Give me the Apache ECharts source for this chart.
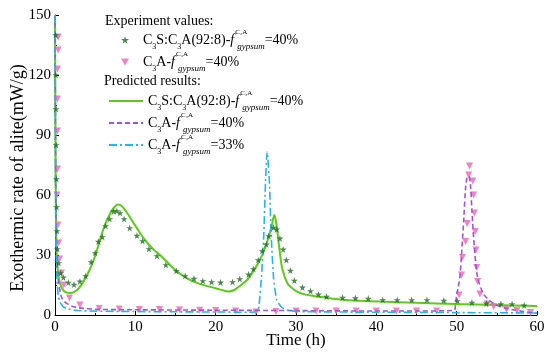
<!DOCTYPE html>
<html><head><meta charset="utf-8">
<script src="https://cdn.jsdelivr.net/npm/echarts@6/dist/echarts.min.js"></script>
<style>html,body{margin:0;padding:0;background:#fff}#c{width:550px;height:359px}</style>
</head><body><div id="c"></div>
<script>
// ---- data ----
const xTicks = [0, 10, 20, 30, 40, 50, 60];
const yTicks = [0, 30, 60, 90, 120, 150];

// Experiment: C3S:C3A(92:8), f_gypsum = 40% (stars)
const expMixX = [0.08,0.1,0.12,0.15,0.18,0.2,0.25,0.3,0.45,0.7,1.04,1.66,2.37,3.1,3.8,4.5,5.0,5.4,5.9,6.3,6.8,7.3,7.7,8.1,8.6,9.3,10.2,10.9,11.7,12.7,13.8,15.1,16.2,17.3,18.4,19.5,20.6,22.1,23.0,24.1,24.7,25.3,25.8,26.3,26.6,27.2,27.6,28.0,28.4,28.8,29.3,29.8,30.8,31.8,32.8,33.8,35.8,37.4,39.0,40.8,42.6,44.4,46.3,48.4,50.1,51.9,53.7,55.5,56.9,58.4];
const expMixY = [140,120,103,85,68,54,42,33,26,21,18.8,16.2,15.2,16.8,19.5,26.5,31,36.7,39,44.5,48,51.8,52,51,48,43.5,39.7,37,33,29.5,25,22,19.5,18.2,17,16.5,16.3,16.5,18,20.3,23,27.5,32,35.3,39.5,43.7,42.8,38.3,32.8,27.5,22.2,17.2,13.8,12,10.3,9.2,8.7,8.4,8.2,7.5,7.5,7.5,7.5,7.2,7,6.2,5.8,5.5,5.5,4.8];

// Experiment: C3A, f_gypsum = 40% (triangles)
const expC3AX = [0.4,0.4,0.3,0.3,0.3,0.3,0.25,0.35,0.45,0.55,0.8,1.1,1.8,3.1,5.5,8,10.5,13,15.5,18,20,22.5,25,27.5,30,32.5,35,37.5,40,42.5,45,47.5,50.3,50.6,50.7,51.1,51.3,51.6,51.5,52.0,52.1,52.2,52.3,52.4,52.5,52.6,52.9,53.8,54.6,56.2,57.5,59.2];
const expC3AY = [139,132.5,123,108,92,73,60,45,36,28,21,15,8.5,5,3.2,3,2.8,2.7,2.6,2.4,2.2,2,1.5,1.8,2,2,2,2,2,2,2,2,10,20,28.8,36.7,45.8,74.5,70,67,60,51,41.7,32.5,23.8,16.7,10.5,5.5,4.2,2.8,2.2,1.3];

// Predicted: C3S:C3A(92:8), 40% (solid green)
const predMixX = [0,0.05,0.1,0.2,0.35,0.55,0.8,1.1,1.5,1.9,2.4,3.0,3.6,4.3,5.0,5.6,6.2,6.9,7.4,7.8,8.3,8.9,9.7,10.5,11.3,12.2,13.2,14.7,15.6,16.6,17.6,18.6,19.6,20.6,21.6,22.3,23.0,23.9,24.7,25.5,26.1,26.6,27.0,27.3,27.5,27.7,28.0,28.3,28.9,29.5,30.2,31.2,32.2,34,36.3,38,40.5,45,50,55,60];
const predMixY = [150,95,55,32,22,17,14,12,11.2,11,11.6,13.5,17,22.5,29.5,37.5,45,51,54,55.2,54.5,51.5,46.5,41.5,37,33,29.5,23.5,20.5,18,16.2,14.8,13.8,12.7,11.7,12.5,14.5,17.5,22,27.5,33,39,45,50,47,41,31,23,16,13.5,11.5,10.2,9.5,8.5,7.5,7.1,6.7,6.1,5.5,5,4.5];

// Predicted: C3A, 40% (dashed)
const predC3A40X = [0,0.05,0.1,0.2,0.3,0.4,0.6,0.8,1.1,1.45,2.0,2.7,3.5,5.6,10,20,30,40,45,49.7,49.85,50.0,50.2,50.4,50.6,50.9,51.1,51.3,51.5,51.7,51.9,52.2,52.6,53.3,54.0,54.6,55.4,56.2,57.2,58.3,59.8,60];
const predC3A40Y = [150,100,60,35,24,17.5,12.5,9,7,5.8,4.6,3.8,3.3,2.8,2.6,2.4,2.2,2,2,2.3,5,10,14,19,30,49,63,69,69.5,66,52,34,19,10.8,7.5,5.8,4.3,3.3,2.5,1.7,0.9,0.8];

// Predicted: C3A, 33% (dash-dot)
const predC3A33X = [0,0.05,0.1,0.15,0.25,0.4,0.6,1.0,1.5,2.5,4,8,15,20,24,25.2,25.4,25.7,26.0,26.2,26.4,26.5,26.7,26.9,27.2,27.6,28.2,28.9,30,35,40,50,60];
const predC3A33Y = [150,90,50,30,17,10,6.5,4.2,3.2,2.4,2,1.8,1.6,1.5,1.4,1.8,5,19,41,66,81.5,78,66,41,19,7.5,4,2.5,1.8,1.5,1.4,1.2,1];

const zip = (xs, ys) => xs.map((x, i) => [x, ys[i]]);

const serif = '"Times New Roman","Liberation Serif",serif';
const starPath = 'path://M50,0 L61.8,36.2 L100,36.2 L69.1,58.8 L80.9,95.1 L50,72.7 L19.1,95.1 L30.9,58.8 L0,36.2 L38.2,36.2 Z';
const downTriPath = 'path://M0,0 L10,0 L5,9 Z';

const labelMix = '{n|C}{s|3}{n|S:C}{s|3}{n|A(92:8)-}{i|f}{sup|C₃A}{sub|gypsum}{n|=40%}';
const labelC3A40 = '{n|C}{s|3}{n|A-}{i|f}{sup|C₃A}{sub|gypsum}{n|=40%}';
const labelC3A33 = '{n|C}{s|3}{n|A-}{i|f}{sup|C₃A}{sub|gypsum}{n|=33%}';
const legendText = {
  'expMix': '{sp| }' + labelMix, 'expC3A': '{sp| }' + labelC3A40,
  'predMix': labelMix, 'predC3A40': labelC3A40, 'predC3A33': labelC3A33
};
const rich = {
  sp: {fontFamily: serif, fontSize: 14, lineHeight: 22, width: 9},
  n: {fontFamily: serif, fontSize: 14, lineHeight: 22, color: '#000'},
  s: {fontFamily: serif, fontSize: 8, lineHeight: 12, verticalAlign: 'bottom', color: '#000'},
  i: {fontFamily: serif, fontSize: 14, fontStyle: 'italic', lineHeight: 22, color: '#000', padding: [0, 1, 0, 0]},
  sup: {fontFamily: serif, fontSize: 7, lineHeight: 11, verticalAlign: 'top', color: '#000', width: 2},
  sub: {fontFamily: serif, fontSize: 9, fontStyle: 'italic', lineHeight: 10, verticalAlign: 'bottom', color: '#000'}
};

const chart = echarts.init(document.getElementById('c'), null, {renderer: 'canvas'});
chart.setOption({
  animation: false,
  backgroundColor: '#fff',
  title: [
    {text: 'Experiment values:', left: 105, top: 14, padding: 0, textStyle: {fontFamily: serif, fontSize: 14, fontWeight: 'normal', color: '#000'}},
    {text: 'Predicted results:', left: 104, top: 74, padding: 0, textStyle: {fontFamily: serif, fontSize: 14, fontWeight: 'normal', color: '#000'}}
  ],
  legend: [
    {data: ['expMix', {name: 'expC3A', icon: downTriPath}], orient: 'vertical', left: 121, top: 29, padding: 0, itemGap: 0,
     itemWidth: 8, itemHeight: 8, formatter: n => legendText[n], textStyle: {rich: rich}, selectedMode: false},
    {data: ['predMix', 'predC3A40', 'predC3A33'], orient: 'vertical', left: 108, top: 90, padding: 0, itemGap: 0,
     itemWidth: 34, itemHeight: 14, itemStyle: {opacity: 0}, formatter: n => legendText[n], textStyle: {rich: rich}, selectedMode: false}
  ],
  grid: {left: 55, right: 13, top: 15, bottom: 44, containLabel: false, outerBoundsMode: 'none'},
  xAxis: {
    type: 'value', min: xTicks[0], max: xTicks[xTicks.length - 1], interval: 10,
    name: 'Time (h)', nameLocation: 'middle', nameGap: 17, nameMoveOverlap: false,
    nameTextStyle: {fontFamily: serif, fontSize: 17, color: '#000'},
    axisLine: {lineStyle: {color: '#000', width: 1}},
    axisTick: {inside: true, length: 4, lineStyle: {color: '#000'}},
    minorTick: {show: true, splitNumber: 2, length: 2, lineStyle: {color: '#000'}},
    axisLabel: {fontFamily: serif, fontSize: 15, color: '#000', margin: 5},
    splitLine: {show: false}
  },
  yAxis: {
    type: 'value', min: yTicks[0], max: yTicks[yTicks.length - 1], interval: 30,
    name: 'Exothermic rate of alite(mW/g)', nameLocation: 'middle', nameGap: 28, nameMoveOverlap: false,
    nameTextStyle: {fontFamily: serif, fontSize: 18, color: '#000', padding: [0, 26, 0, 0]},
    axisLine: {show: true, lineStyle: {color: '#000', width: 1}},
    axisTick: {inside: true, length: 4, lineStyle: {color: '#000'}},
    minorTick: {show: true, splitNumber: 2, length: 2, lineStyle: {color: '#000'}},
    axisLabel: {fontFamily: serif, fontSize: 15, color: '#000', margin: 4},
    splitLine: {show: false}
  },
  series: [
    {name: 'predMix', type: 'line', data: zip(predMixX, predMixY), symbol: 'none', smooth: 0.3,
     lineStyle: {color: '#5ccb1a', width: 2}, itemStyle: {color: '#5ccb1a'}, z: 2},
    {name: 'expC3A', type: 'scatter', data: zip(expC3AX, expC3AY), symbol: 'triangle', symbolRotate: 180, symbolSize: 7,
     itemStyle: {color: '#f26bb8', opacity: 0.85}, z: 3},
    {name: 'predC3A40', type: 'line', data: zip(predC3A40X, predC3A40Y), symbol: 'none', smooth: 0.3,
     lineStyle: {color: '#a152d8', width: 1.6, type: [5, 3]}, itemStyle: {color: '#a152d8'}, z: 4},
    {name: 'predC3A33', type: 'line', data: zip(predC3A33X, predC3A33Y), symbol: 'none', smooth: 0.2,
     lineStyle: {color: '#26b4ea', width: 1.6, type: [8, 3, 2, 3]}, itemStyle: {color: '#26b4ea'}, z: 5},
    {name: 'expMix', type: 'scatter', data: zip(expMixX, expMixY), symbol: starPath, symbolSize: 7,
     itemStyle: {color: '#1e6b22'}, z: 6}
  ]
});
</script></body></html>
